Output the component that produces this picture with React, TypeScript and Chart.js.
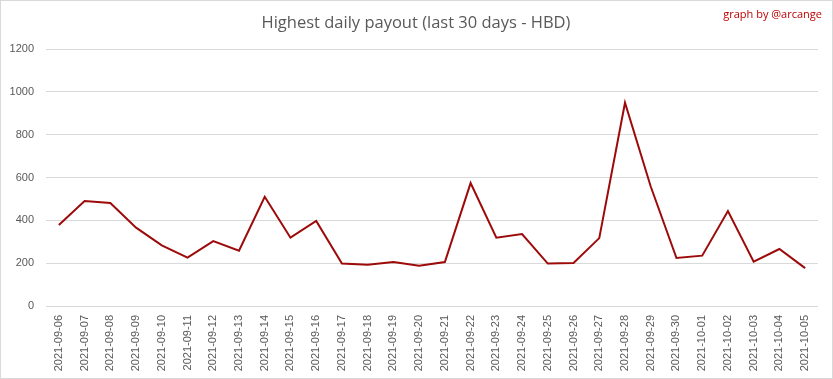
import React, { useEffect, useRef } from "react";
import { Chart, registerables } from "chart.js";

Chart.register(...registerables);

const categories = [
  "2021-09-06", "2021-09-07", "2021-09-08", "2021-09-09", "2021-09-10",
  "2021-09-11", "2021-09-12", "2021-09-13", "2021-09-14", "2021-09-15",
  "2021-09-16", "2021-09-17", "2021-09-18", "2021-09-19", "2021-09-20",
  "2021-09-21", "2021-09-22", "2021-09-23", "2021-09-24", "2021-09-25",
  "2021-09-26", "2021-09-27", "2021-09-28", "2021-09-29", "2021-09-30",
  "2021-10-01", "2021-10-02", "2021-10-03", "2021-10-04", "2021-10-05",
];

const payouts = [
  378, 490, 481, 366, 283,
  226, 303, 258, 510, 319,
  397, 198, 193, 205, 188,
  205, 574, 319, 336, 198,
  201, 317, 949, 558, 224,
  235, 443, 207, 266, 177,
];

const yTicks = [0, 200, 400, 600, 800, 1000, 1200];

const titleText = "Highest daily payout (last 30 days - HBD)";
const watermarkText = "graph by @arcange";

const decorPlugin = {
  id: "decor",
  afterDraw(chart: any) {
    const ctx = chart.ctx;
    ctx.save();
    ctx.fillStyle = "#595959";
    ctx.font = "16.5px 'Open Sans', sans-serif";
    ctx.textAlign = "center";
    ctx.textBaseline = "middle";
    ctx.fillText(titleText, 416, 23);
    ctx.fillStyle = "#c00000";
    ctx.font = "11px 'Open Sans', sans-serif";
    ctx.textAlign = "right";
    ctx.fillText(watermarkText, 822, 15);
    ctx.strokeStyle = "#d9d9d9";
    ctx.lineWidth = 1;
    ctx.strokeRect(0.5, 0.5, chart.width - 1, chart.height - 1);
    ctx.restore();
  },
};

export default function App() {
  const ref = useRef<HTMLCanvasElement | null>(null);
  useEffect(() => {
    document.body.style.margin = "0";
    if (!ref.current) return;
    const chart = new Chart(ref.current, {
      type: "line",
      data: {
        labels: categories,
        datasets: [
          {
            data: payouts,
            borderColor: "#9c0a0a",
            borderWidth: 2,
            pointRadius: 0,
            tension: 0,
            fill: false,
          },
        ],
      },
      options: {
        animation: false,
        responsive: false,
        layout: { padding: { top: 49, right: 15, bottom: 0, left: 0 } },
        plugins: {
          legend: { display: false },
          title: { display: false },
          tooltip: { enabled: false },
        },
        scales: {
          x: {
            offset: true,
            grid: { display: false, drawTicks: false },
            border: { display: false },
            ticks: {
              minRotation: 90,
              maxRotation: 90,
              autoSkip: false,
              padding: 9,
              color: "#595959",
              font: { family: "'Liberation Sans', sans-serif", size: 11 },
            },
            afterFit(scale: any) {
              scale.height = 73;
            },
          },
          y: {
            min: 0,
            max: 1200,
            afterBuildTicks(scale: any) {
              scale.ticks = yTicks.map((v) => ({ value: v }));
            },
            grid: { color: "#d9d9d9", drawTicks: false, lineWidth: 1 },
            border: { display: false },
            ticks: {
              padding: 12,
              color: "#595959",
              font: { family: "'Liberation Sans', sans-serif", size: 11 },
              callback: (v: any) => String(v),
            },
            afterFit(scale: any) {
              scale.width = 46;
            },
          },
        },
      },
      plugins: [decorPlugin],
    });
    return () => chart.destroy();
  }, []);
  return (
    <div style={{ position: "absolute", left: 0, top: 0, width: 833, height: 379, background: "#fff" }}>
      <canvas ref={ref} width={833} height={379} />
    </div>
  );
}
